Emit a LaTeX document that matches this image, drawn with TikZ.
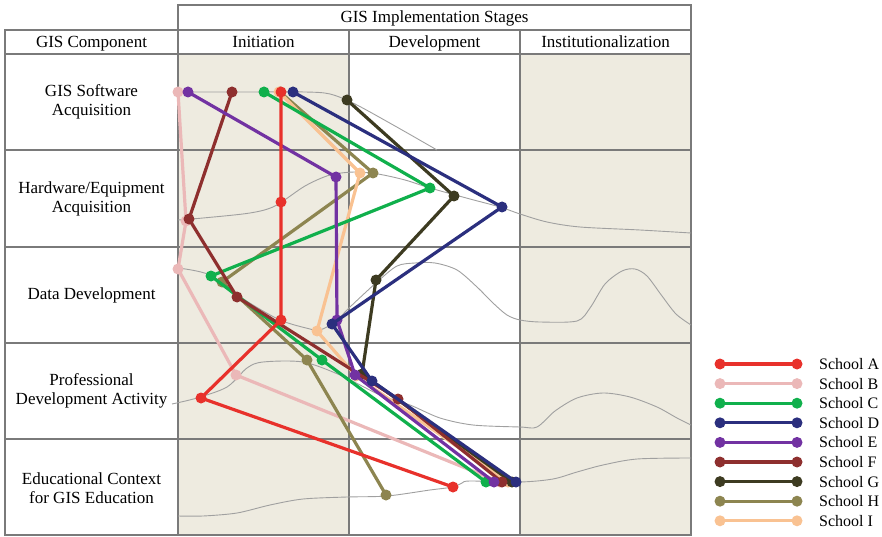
\documentclass[tikz,border=0pt]{standalone}
\usepackage{fontspec}
\setmainfont{Liberation Serif}
\definecolor{cA}{HTML}{E8312B}
\definecolor{cB}{HTML}{EBB8B8}
\definecolor{cC}{HTML}{10B04C}
\definecolor{cD}{HTML}{2B2F7E}
\definecolor{cE}{HTML}{7232A2}
\definecolor{cF}{HTML}{8E2F2E}
\definecolor{cG}{HTML}{3D3B21}
\definecolor{cH}{HTML}{8D8550}
\definecolor{cI}{HTML}{F9C292}
\definecolor{beige}{HTML}{EEEBE0}
\definecolor{gridc}{HTML}{7A7A7A}
\definecolor{curvec}{HTML}{A0A0A0}
\begin{document}
\begin{tikzpicture}[x=1pt,y=-1pt,
  gridline/.style={draw=gridc,line width=1.6pt},
  bgcurve/.style={draw=curvec,line width=0.9pt},
  schoolline/.style={line width=3.2pt,draw=#1,line join=round},
  dot/.style={circle,fill=#1,draw=none,inner sep=0pt,minimum size=11pt},
  lbl/.style={font=\fontsize{17}{18.5}\selectfont,align=center,inner sep=0pt},
  leg/.style={font=\fontsize{16}{19}\selectfont,anchor=west,inner sep=0pt}]
\useasboundingbox (0,0) rectangle (882,537);
% shaded columns
\fill[beige] (178,54) rectangle (349,535);
\fill[beige] (520,54) rectangle (691,535);
% grid
\draw[gridline] (178,5) rectangle (691,30);
\draw[gridline] (5,30) rectangle (691,535);
\draw[gridline] (5,54) -- (691,54);
\foreach \yy in {150,247,343,439} \draw[gridline] (5,\yy) -- (691,\yy);
\foreach \xx in {178,349,520} \draw[gridline] (\xx,30) -- (\xx,535);
% background curves
\draw[bgcurve] plot[smooth,tension=0.5] coordinates {(178,92) (250,92) (305,92) (330,94) (355,104) (395,126) (437,150)};
\draw[bgcurve] plot[smooth,tension=0.5] coordinates {(178,220) (203,218) (250,213) (275,206) (305,186) (330,175) (355,172) (378,174) (405,180) (430,188) (470,199) (500,207) (520,214) (547,222) (580,227) (640,230) (691,233)};
\draw[bgcurve] plot[smooth,tension=0.5] coordinates {(178,268) (210,275) (245,300) (280,320) (310,329) (320,330) (335,322) (350,307) (377,282) (397,266) (415,263) (435,263) (457,270) (477,287) (493,303) (507,315) (520,320) (540,322) (577,321) (590,308) (605,284) (622,271) (635,269) (647,276) (662,296) (676,314) (691,325)};
\draw[bgcurve] plot[smooth,tension=0.5] coordinates {(172,404) (197,398) (227,387) (247,368) (263,362) (303,362) (340,375) (380,395) (410,405) (440,418) (473,425) (520,427) (537,427) (555,411) (577,398) (603,393) (630,397) (657,407) (677,418) (691,425)};
\draw[bgcurve] plot[smooth,tension=0.5] coordinates {(178,516) (203,516) (237,513) (270,505) (303,499) (347,497) (387,496) (430,490) (453,487) (462,483) (470,481) (520,482) (553,479) (577,472) (603,465) (637,459) (691,458)};
% header texts
\node[lbl,anchor=base] (stages) at (434.5,23) {GIS Implementation Stages};
\node[lbl,anchor=base] (comp) at (91.5,48) {GIS Component};
\node[lbl,anchor=base] (init) at (263.5,48) {Initiation};
\node[lbl,anchor=base] (devel) at (434.5,48) {Development};
\node[lbl,anchor=base] (inst) at (605.5,48) {Institutionalization};
% row labels
\node[lbl] (r1) at (91.5,102) {GIS Software\\Acquisition};
\node[lbl] (r2) at (91.5,199) {Hardware/Equipment\\Acquisition};
\node[lbl] (r3) at (91.5,295) {Data Development};
\node[lbl] (r4) at (91.5,391) {Professional\\Development Activity};
\node[lbl] (r5) at (91.5,488) {Educational Context\\for GIS Education};
% school points
\coordinate (A1) at (281,92);  \coordinate (A2) at (281,202); \coordinate (A3) at (281,320); \coordinate (A4) at (201,398); \coordinate (A5) at (453,487);
\coordinate (B1) at (178,92);  \coordinate (B2) at (186,221); \coordinate (B3) at (178,269); \coordinate (B4) at (236,375); \coordinate (B5) at (500,482);
\coordinate (C1) at (264,92);  \coordinate (C2) at (430,188); \coordinate (C3) at (211,276); \coordinate (C4) at (322,360); \coordinate (C5) at (486,482);
\coordinate (D1) at (293,92);  \coordinate (D2) at (502,207); \coordinate (D3) at (332,324); \coordinate (D4) at (372,381); \coordinate (D5) at (516,482);
\coordinate (E1) at (188,92);  \coordinate (E2) at (336,177); \coordinate (E3) at (337,320); \coordinate (E4) at (355,375); \coordinate (E5) at (494,482);
\coordinate (F1) at (232,92);  \coordinate (F2) at (189,219); \coordinate (F3) at (237,297); \coordinate (F4) at (398,399); \coordinate (F5) at (502,482);
\coordinate (G1) at (347,100); \coordinate (G2) at (454,196); \coordinate (G3) at (376,280); \coordinate (G4) at (362,374); \coordinate (G5) at (512,482);
\coordinate (H1) at (280,92);  \coordinate (H2) at (373,173); \coordinate (H3) at (222,282); \coordinate (H4) at (307,360); \coordinate (H5) at (386,495);
\coordinate (I1) at (279,92);  \coordinate (I2) at (360,173); \coordinate (I3) at (317,331); \coordinate (I4) at (356,376); \coordinate (I5) at (508,482);
% school lines, each followed by its dots
\foreach \s in {B,H,I,G,C,F,E,D,A}{
  \draw[schoolline=c\s] (\s1) -- (\s2) -- (\s3) -- (\s4) -- (\s5);
  \foreach \k in {1,...,5} \node[dot=c\s] (dot\s\k) at (\s\k) {};
}
% legend
\foreach \s/\n [count=\i from 0] in {A/School A,B/School B,C/School C,D/School D,E/School E,F/School F,G/School G,H/School H,I/School I}{
  \coordinate (L\s a) at (720,364+19.6*\i);
  \coordinate (L\s b) at (797,364+19.6*\i);
  \draw[schoolline=c\s] (L\s a) -- (L\s b);
  \node[dot=c\s] (Ld\s a) at (L\s a) {};
  \node[dot=c\s] (Ld\s b) at (L\s b) {};
  \node[leg] (Lt\s) at (819,364+19.6*\i) {\n};
}
\end{tikzpicture}
\end{document}
